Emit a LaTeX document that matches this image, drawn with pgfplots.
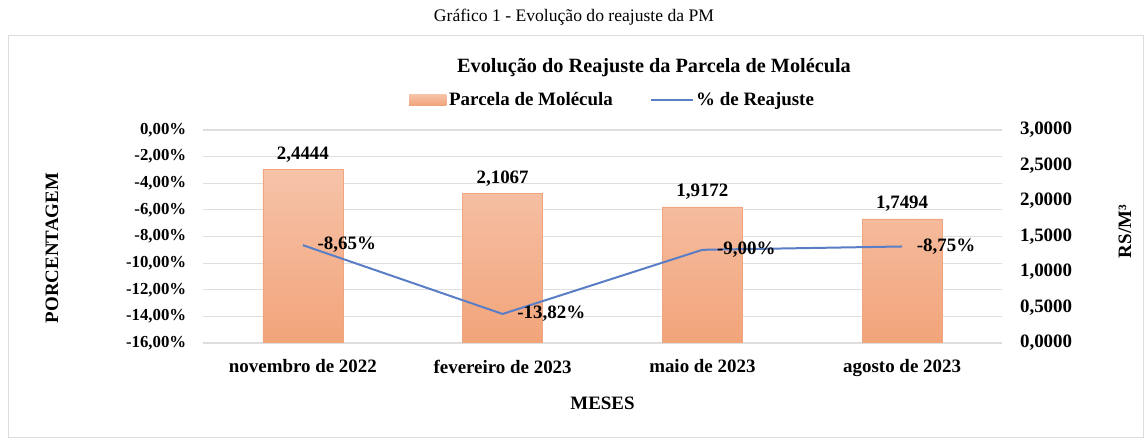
\documentclass[border=0pt]{standalone}
\usepackage{fontspec}
\setmainfont{Liberation Serif}
\usepackage{pgfplots}
\pgfplotsset{compat=1.18}

\definecolor{barTop}{HTML}{F6C3A9}
\definecolor{barBot}{HTML}{F2A47A}
\definecolor{barEdge}{HTML}{F1A57C}
\definecolor{lineBlue}{HTML}{5A7EC6}
\definecolor{gridGray}{HTML}{DEDEDE}
\definecolor{frameGray}{HTML}{DDDDDD}

\newcommand{\lbl}{\fontsize{14.2}{16}\selectfont\bfseries}
\newcommand{\lblsmall}{\fontsize{12.6}{15}\selectfont\bfseries}

% 1 px of the reference = 0.75pt; axis origin at px (203,343)
\pgfplotsset{base/.style={
  scale only axis, width=599.25pt, height=159.75pt,
  xmin=-0.5, xmax=3.5,
  /pgf/number format/assume math mode=true,
  tick label style={font=\lbl},
  label style={font=\lbl},
  major tick length=0pt,
}}

\begin{document}
\begin{tikzpicture}
\path[use as bounding box] (-152.25pt,-72pt) rectangle (707.25pt,257.25pt);
\draw[frameGray] ({(8-203)*0.75pt},{(343-35)*0.75pt}) rectangle ({(1143-203)*0.75pt},{(343-437)*0.75pt});
\node[font=\fontsize{13.2}{15}\selectfont] at ({(574-203)*0.75pt},{(343-17)*0.75pt}) {Gráfico 1 - Evolução do reajuste da PM};
\node[font=\fontsize{15.2}{17}\selectfont\bfseries] at ({(654-203)*0.75pt},{(343-68)*0.75pt}) {Evolução do Reajuste da Parcela de Molécula};

% left axis: percent scale, grid and category labels
\begin{axis}[base,
  ymin=-16, ymax=0, ytick={-16,-14,...,0},
  axis lines=left, axis line style={draw=none},
  ymajorgrids, grid style={gridGray, line width=0.8pt},
  yticklabel={\pgfmathprintnumber[fixed,fixed zerofill,precision=2,use comma]{\tick}\%},
  yticklabel style={font=\lblsmall, xshift=-9pt},
  xtick={0,1,2,3},
  xticklabels={novembro de 2022,fevereiro de 2023,maio de 2023,agosto de 2023},
  xticklabel style={yshift=-9pt},
  ylabel={PORCENTAGEM},
  ylabel style={at={(axis description cs:-0.189,0.446)}, anchor=center},
  xlabel={MESES},
  xlabel style={at={(axis description cs:0.5,-0.282)}, anchor=center},
]
\addplot[draw=none] coordinates {(0,-16)};
\end{axis}

% right axis: bars
\begin{axis}[base,
  ymin=0, ymax=3, ytick={0,0.5,...,3},
  axis y line*=right, axis x line=none, axis line style={draw=none},
  yticklabel={\pgfmathprintnumber[fixed,fixed zerofill,precision=4,use comma]{\tick}},
  yticklabel style={xshift=10pt},
  ylabel={RS/M³},
  ylabel style={at={(axis description cs:1.154,0.523)}, anchor=center},
  ybar, bar width=60pt,
  nodes near coords={\pgfmathprintnumber[fixed,fixed zerofill,precision=4,use comma]{\pgfplotspointmeta}},
  nodes near coords style={font=\lbl, yshift=2pt},
]
\addplot[draw=barEdge, top color=barTop, bottom color=barBot] coordinates {
  (0,2.4444) (1,2.1067) (2,1.9172) (3,1.7494)};
\end{axis}

% line on the percent scale, with the legend
\begin{axis}[base,
  ymin=-16, ymax=0, hide axis,
  legend style={at={(0.513,1.141)}, anchor=center, draw=none, fill=none,
    font=\lbl, /tikz/every even column/.append style={column sep=26pt},
    /tikz/every odd column/.append style={column sep=0pt}},
  legend columns=2,
]
\addlegendimage{legend image code/.code={\shade[top color=barTop,bottom color=barBot,draw=none] (-4pt,-4pt) rectangle (24pt,4pt);}}
\addlegendentry{Parcela de Molécula}
\addplot[lineBlue, line width=1.5pt, mark=none,
  legend image code/.code={\draw[lineBlue,line width=1.5pt] (-4pt,0pt) -- (27pt,0pt);},
  nodes near coords={\pgfmathprintnumber[fixed,fixed zerofill,precision=2,use comma]{\pgfplotspointmeta}\%},
  nodes near coords style={font=\lbl, anchor=west, xshift=7pt, text=black},
] coordinates {
  (0,-8.65) (1,-13.82) (2,-9.00) (3,-8.75)};
\addlegendentry{\% de Reajuste}
\end{axis}
\end{tikzpicture}
\end{document}
